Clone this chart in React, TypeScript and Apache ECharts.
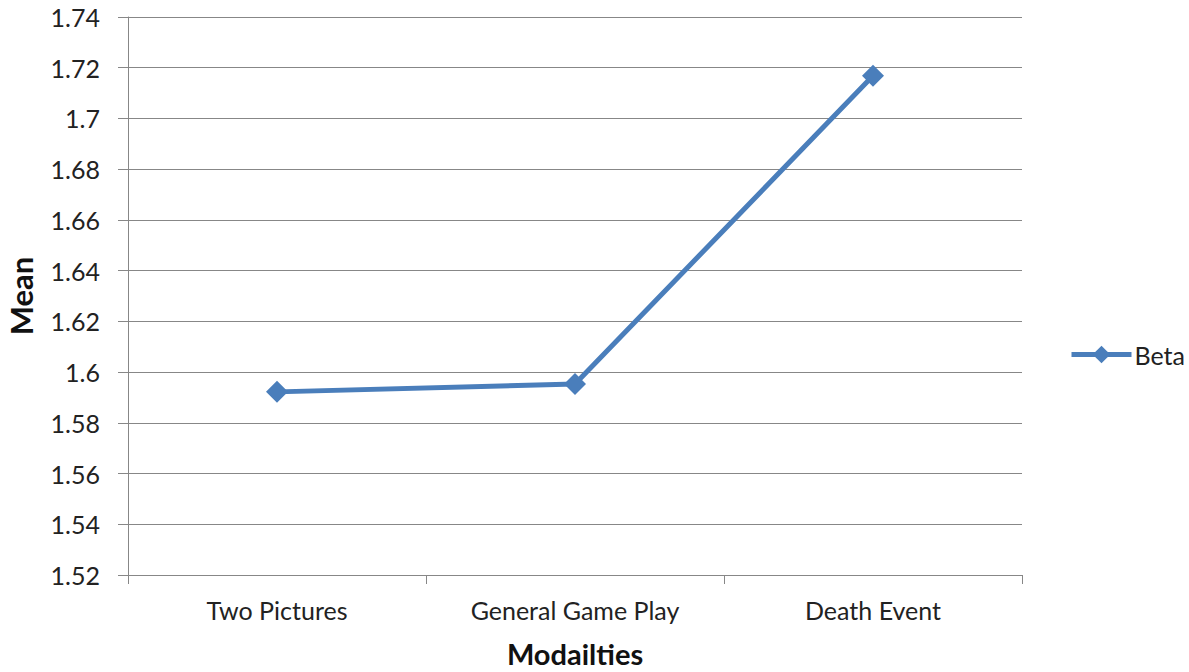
import React, { useEffect, useRef } from "react";
import * as echarts from "echarts";

const categories = ["Two Pictures", "General Game Play", "Death Event"];
const betaMeans = [1.5922, 1.5953, 1.7168];
const seriesName = "Beta";

const FONT = "Lato, 'Open Sans', sans-serif";
const BLUE = "#4a7ebb";

export default function App() {
  const ref = useRef<HTMLDivElement>(null);

  useEffect(() => {
    document.body.style.margin = "0";
    const chart = echarts.init(ref.current!, null, { renderer: "svg" });
    chart.setOption({
      animation: false,
      backgroundColor: "#ffffff",
      textStyle: { fontFamily: FONT },
      grid: {
        left: 128,
        right: 167,
        top: 17,
        bottom: 97,
        containLabel: false,
        outerBoundsMode: "none",
      },
      legend: {
        data: [{ name: seriesName, lineStyle: { width: 5, color: BLUE } }],
        left: 1064,
        top: 337,
        itemWidth: 60,
        itemHeight: 22,
        itemGap: 6,
        textStyle: { fontFamily: FONT, fontSize: 25, color: "#222", padding: [0, 0, 0, -2] },
      },
      xAxis: {
        type: "category",
        data: categories,
        boundaryGap: true,
        name: "Modailties",
        nameLocation: "middle",
        nameGap: 64,
        nameTextStyle: { fontFamily: FONT, fontSize: 29, fontWeight: "bold", color: "#111" },
        axisLine: { lineStyle: { color: "#878787", width: 1 } },
        axisTick: { show: true, length: 9, interval: 0, lineStyle: { color: "#878787" } },
        axisLabel: { margin: 22, fontFamily: FONT, fontSize: 25, color: "#222" },
        splitLine: { show: false },
      },
      yAxis: {
        type: "value",
        min: 1.52,
        max: 1.74,
        interval: 0.02,
        name: "Mean",
        nameLocation: "middle",
        nameGap: 92,
        nameTextStyle: { fontFamily: FONT, fontSize: 31, fontWeight: "bold", color: "#111" },
        axisLine: { show: true, lineStyle: { color: "#878787", width: 1 } },
        axisTick: { show: true, length: 10, lineStyle: { color: "#878787" } },
        axisLabel: {
          margin: 28,
          fontFamily: FONT,
          fontSize: 25,
          color: "#222",
          formatter: (v: number) => String(parseFloat(v.toFixed(2))),
        },
        splitLine: { show: true, lineStyle: { color: "#878787", width: 1 } },
      },
      series: [
        {
          name: seriesName,
          type: "line",
          data: betaMeans,
          symbol: "diamond",
          symbolSize: 22,
          lineStyle: { color: BLUE, width: 5 },
          itemStyle: { color: BLUE },
        },
      ],
    });
    return () => chart.dispose();
  }, []);

  return <div ref={ref} style={{ width: 1189, height: 672 }} />;
}
